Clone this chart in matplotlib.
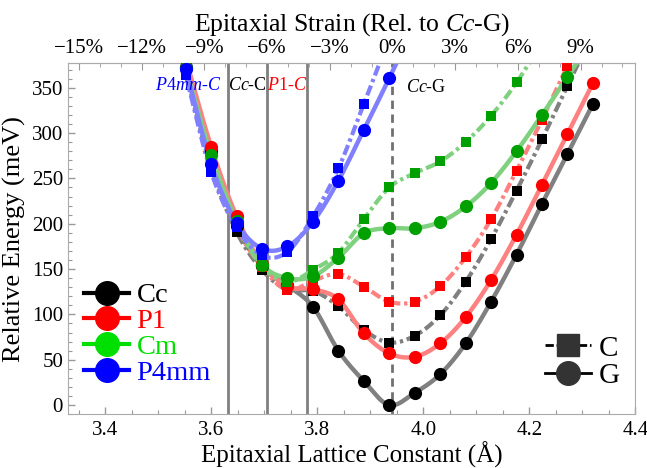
import numpy as np
import matplotlib
matplotlib.use("Agg")
import matplotlib.pyplot as plt
from matplotlib.lines import Line2D
from matplotlib.ticker import MultipleLocator, FixedLocator

plt.rcParams['font.family'] = 'Liberation Serif'
plt.rcParams['mathtext.fontset'] = 'custom'
plt.rcParams['mathtext.rm'] = 'Liberation Serif'
plt.rcParams['mathtext.it'] = 'Liberation Serif:italic'

# lattice constants (Angstrom) of the computed points
lattice = [3.552, 3.600, 3.648, 3.696, 3.744, 3.792, 3.840, 3.888, 3.936,
           3.984, 4.032, 4.080, 4.128, 4.176, 4.224, 4.272, 4.320]

# relative energies (meV), G = ground state, C = constrained
cc_g = [373, 280, 198, 153, 132, 108.5, 60, 26.5, 0, 13.6, 34, 68, 114, 166, 222, 277, 332]
cc_c = [366, 262, 191, 149, 127, 126, 109, 82.8, 69, 76.5, 99, 136, 183, 236.5, 293, 352, 410]
p1_g = [382, 285, 208, 156, 131, 127.7, 116.6, 79, 57, 53.3, 68, 97, 138, 188, 243, 299, 355]
p1_c = [370, 270, 197, 152, 127, 137, 144.6, 130.6, 114, 114, 131, 163, 205, 258.6, 314.6, 374, 430]
cm_g = [372, 276, 203, 155, 140, 142, 162.6, 189.5, 195, 195, 202, 219, 245, 280, 320, 362, 405]
cm_c = [368, 272, 200, 153, 136, 149, 168, 205, 240, 255.7, 268.6, 290, 319, 355.7, 400]
p4_g = [371, 266, 201, 172.5, 175, 202, 247.6, 303.5, 360.6, 420]
p4_c = [364, 257, 196, 165, 169, 208, 261, 332, 405]

a0 = 3.942  # Cc-G lattice constant
transitions = [3.632, 3.706, 3.781]
trans_labels = ["$\\mathit{P4mm}$-$\\mathit{C}$", "$\\mathit{Cc}$-C", "$\\mathit{P1}$-$\\mathit{C}$"]

strain_ticks = [-15, -12, -9, -6, -3, 0, 3, 6, 9]


def smooth(x, y, n=12):
  # catmull-rom through the points
  x = np.asarray(x, float)
  y = np.asarray(y, float)
  xp = np.concatenate([[2*x[0]-x[1]], x, [2*x[-1]-x[-2]]])
  yp = np.concatenate([[2*y[0]-y[1]], y, [2*y[-1]-y[-2]]])
  xs, ys = [], []
  t = np.linspace(0, 1, n, endpoint=False)
  for i in range(1, len(xp)-2):
    for arr, out in ((xp, xs), (yp, ys)):
      p0, p1, p2, p3 = arr[i-1], arr[i], arr[i+1], arr[i+2]
      out.extend(0.5*((2*p1) + (-p0+p2)*t + (2*p0-5*p1+4*p2-p3)*t**2
                      + (-p0+3*p1-3*p2+p3)*t**3))
  xs.append(x[-1])
  ys.append(y[-1])
  return xs, ys


fig = plt.figure(figsize=(6.47, 4.68), dpi=100)
ax = fig.add_axes([0.105, 0.115, 0.877, 0.75])

series = [
  (cc_g, cc_c, "black", "#808080", "black"),
  (p1_g, p1_c, "#ff0000", "#ff8080", "#ff0000"),
  (cm_g, cm_c, "#00a000", "#7fd07f", "#00e000"),
  (p4_g, p4_c, "#0000ff", "#8080ff", "#0000ff"),
]

for x in transitions:
  ax.axvline(x, color="#808080", lw=2, zorder=1)
ax.axvline(a0, color="#707070", lw=2, dashes=(3, 2), zorder=1)

for g, c, mc, lc, _ in series:
  xs, ys = smooth(lattice[:len(c)], c)
  ax.plot(xs, ys, color=lc, lw=3, dashes=(2.5, 0.9, 0.8, 0.9), zorder=2)
  xs, ys = smooth(lattice[:len(g)], g)
  ax.plot(xs, ys, color=lc, lw=3.2, zorder=2)
for g, c, mc, lc, _ in series:
  ax.plot(lattice[:len(c)], c, 's', color=mc, ms=7, mew=0, zorder=3)
  ax.plot(lattice[:len(g)], g, 'o', color=mc, ms=9.5, mew=0, zorder=3)

ax.set_xlim(3.33, 4.4)
ax.set_ylim(-10, 377)
ax.xaxis.set_major_locator(MultipleLocator(0.2))
ax.xaxis.set_minor_locator(MultipleLocator(0.05))
ax.yaxis.set_major_locator(MultipleLocator(50))
ax.yaxis.set_minor_locator(MultipleLocator(10))
ax.xaxis.set_major_formatter(plt.FuncFormatter(lambda v, p: "%.1f" % v))
ax.tick_params(which="both", direction="in", color="#999999", labelsize=15,
               top=False, right=False)
ax.tick_params(which="major", length=5, width=1)
ax.tick_params(which="minor", length=3, width=0.8)
ax.tick_params(axis="x", pad=5)
for s in ax.spines.values():
  s.set_color("#aaaaaa")
ax.set_xlabel("Epitaxial Lattice Constant (Å)", fontsize=18, labelpad=1)
ax.set_ylabel("Relative Energy (meV)", fontsize=19, labelpad=4)

sec = ax.secondary_xaxis("top", functions=(lambda a: (a/a0-1)*100,
                                           lambda s: a0*(1+s/100)))
sec.xaxis.set_major_locator(FixedLocator(strain_ticks))
sec.xaxis.set_minor_locator(MultipleLocator(1))
sec.set_xticklabels([("%d%%" % s).replace("-", "\u2212") for s in strain_ticks])
sec.tick_params(which="both", direction="in", color="#999999", labelsize=15)
sec.tick_params(which="major", length=5)
sec.tick_params(which="minor", length=3)
sec.spines["top"].set_color("#aaaaaa")
sec.set_xlabel("Epitaxial Strain (Rel. to $\\mathit{Cc}$-G)", fontsize=18.5, labelpad=6)

# transition labels
ax.text(3.620, 352, trans_labels[0], color="#0000ff", fontsize=13, ha="right", va="center")
ax.text(3.669, 352, trans_labels[1], color="black", fontsize=13, ha="center", va="center")
ax.text(3.7435, 352, trans_labels[2], color="#ff0000", fontsize=13, ha="center", va="center")
ax.text(a0 + 0.025, 350, "$\\mathit{Cc}$-G", color="black", fontsize=13, ha="left", va="center")

names = ["Cc", "P1", "Cm", "P4mm"]
handles = [Line2D([], [], color=s[4], lw=3, marker="o", ms=17) for s in series]
leg = ax.legend(handles, names, loc="upper left", bbox_to_anchor=(0.028, 0.375),
                frameon=False, fontsize=20.5, handlelength=1.6, handletextpad=0.25,
                labelspacing=0.0, borderpad=0, borderaxespad=0,
                labelcolor=[s[4] for s in series])
ax.add_artist(leg)

h2 = [Line2D([], [], color="black", lw=2, dashes=(3, 1, 1, 1), marker="s", ms=16,
             mfc="#333333", mec="#333333"),
      Line2D([], [], color="black", lw=2, marker="o", ms=17, mfc="#333333", mec="#333333")]
ax.legend(h2, ["C", "G"], loc="upper left", bbox_to_anchor=(0.84, 0.225),
          frameon=False, fontsize=21, handlelength=1.6, handletextpad=0.25,
          labelspacing=0.05, borderpad=0, borderaxespad=0)

fig.savefig("out.png", dpi=100)
